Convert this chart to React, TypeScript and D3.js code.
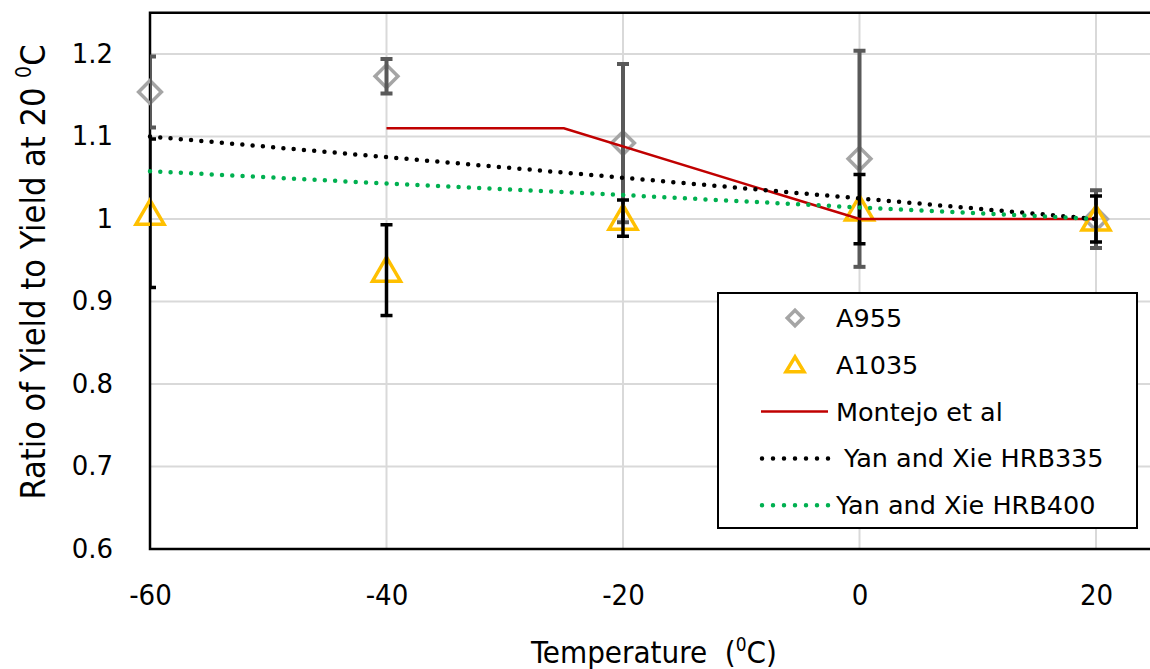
import React, { useEffect, useRef } from 'react';
import * as d3 from 'd3';

// temperatures (deg C) where tests were run
const temps = [-60, -40, -20, 0, 20];

// A955 mean ratio and error (+/-)
const a955 = [1.154, 1.173, 1.092, 1.073, 1.0];
const a955Err = [0.043, 0.021, 0.096, 0.131, 0.035];

// A1035 mean ratio and error (+/-)
const a1035 = [1.007, 0.938, 1.001, 1.012, 1.0];
const a1035Err = [0.09, 0.055, 0.022, 0.042, 0.028];

// Montejo et al model
const montejoT = [-40, -25, 0, 20];
const montejoV = [1.11, 1.11, 1.0, 1.0];

// Yan and Xie models
const hrb335 = [1.1, 1.075, 1.05, 1.025, 1.0];
const hrb400 = [1.058, 1.043, 1.029, 1.014, 1.0];

const xTicks = [-60, -40, -20, 0, 20];
const yTicks = [0.6, 0.7, 0.8, 0.9, 1.0, 1.1, 1.2];

const W = 1150;
const H = 669;

export default function App() {
  const svgRef = useRef<SVGSVGElement>(null);

  useEffect(() => {
    const root = d3.select(svgRef.current);
    root.selectAll('*').remove();

    const x = d3.scaleLinear().domain([-60, 20]).range([150, 1096]);
    const y = d3.scaleLinear().domain([0.6, 1.2]).range([549, 54]);
    const left = 150;
    const right = W + 5;
    const top = y(1.25);
    const bottom = y(0.6);

    // clip for error bars
    root.append('defs').append('clipPath').attr('id', 'plotclip')
      .append('rect')
      .attr('x', left)
      .attr('y', top)
      .attr('width', right - left)
      .attr('height', bottom - top);

    // gridlines
    root.append('g')
      .selectAll('line')
      .data(yTicks.filter((d) => d > 0.6))
      .enter()
      .append('line')
      .attr('x1', left)
      .attr('x2', right)
      .attr('y1', (d) => y(d))
      .attr('y2', (d) => y(d))
      .attr('stroke', '#d9d9d9')
      .attr('stroke-width', 2);

    root.append('g')
      .selectAll('line')
      .data(xTicks.filter((d) => d > -60))
      .enter()
      .append('line')
      .attr('x1', (d) => x(d))
      .attr('x2', (d) => x(d))
      .attr('y1', top)
      .attr('y2', bottom)
      .attr('stroke', '#d9d9d9')
      .attr('stroke-width', 2);

    // frame: top, left, bottom
    root.append('path')
      .attr('d', `M${right},${top}H${left}V${bottom}H${right}`)
      .attr('fill', 'none')
      .attr('stroke', '#000')
      .attr('stroke-width', 2.5);

    // axes labels
    const yAxis = root.append('g')
      .attr('transform', `translate(${left - 37},0)`)
      .call(d3.axisLeft(y).tickValues(yTicks).tickSize(0).tickPadding(0)
        .tickFormat((d) => String(+(+d).toFixed(1))));
    yAxis.select('.domain').remove();
    yAxis.selectAll('text')
      .attr('font-family', 'DejaVu Sans')
      .attr('font-size', 26)
      .attr('fill', '#000');

    const xAxis = root.append('g')
      .attr('transform', `translate(0,${bottom + 35})`)
      .call(d3.axisBottom(x).tickValues(xTicks).tickSize(0).tickPadding(0)
        .tickFormat((d) => String(d)));
    xAxis.select('.domain').remove();
    xAxis.selectAll('text')
      .attr('font-family', 'DejaVu Sans Condensed, DejaVu Sans')
      .attr('font-size', 29)
      .attr('fill', '#000');

    // axis titles
    const xt = root.append('text')
      .attr('x', 654)
      .attr('y', 663)
      .attr('text-anchor', 'middle')
      .attr('font-family', 'DejaVu Sans Condensed, DejaVu Sans')
      .attr('font-size', 31)
      .style('white-space', 'pre')
      .text('Temperature  (');
    xt.append('tspan').attr('font-size', 19).attr('dy', -12).text('0');
    xt.append('tspan').attr('dy', 12).text('C)');

    const yt = root.append('text')
      .attr('transform', 'translate(45,272) rotate(-90)')
      .attr('text-anchor', 'middle')
      .attr('font-family', 'DejaVu Sans Condensed, DejaVu Sans')
      .attr('font-size', 34)
      .text('Ratio of Yield to Yield at 20 ');
    yt.append('tspan').attr('font-size', 21).attr('dy', -14).text('0');
    yt.append('tspan').attr('dy', 14).text('C');

    const errG = (vals: number[], errs: number[], color: string, width: number) => {
      const g = root.append('g').attr('clip-path', 'url(#plotclip)')
        .attr('stroke', color).attr('stroke-width', width);
      temps.forEach((t, i) => {
        const hi = y(vals[i] + errs[i]);
        const lo = y(vals[i] - errs[i]);
        g.append('line').attr('x1', x(t)).attr('x2', x(t)).attr('y1', hi).attr('y2', lo);
        g.append('line').attr('x1', x(t) - 6).attr('x2', x(t) + 6).attr('y1', hi).attr('y2', hi);
        g.append('line').attr('x1', x(t) - 6).attr('x2', x(t) + 6).attr('y1', lo).attr('y2', lo);
      });
    };

    const diamond = d3.symbol().type(d3.symbolSquare).size(260);
    const triangle = 'M0,-13L14,11L-14,11Z';

    // A955
    root.append('g')
      .selectAll('path')
      .data(temps)
      .enter()
      .append('path')
      .attr('d', diamond())
      .attr('transform', (d, i) => `translate(${x(d)},${y(a955[i])}) rotate(45)`)
      .attr('fill', 'none')
      .attr('stroke', '#a5a5a5')
      .attr('stroke-width', 3.5);
    errG(a955, a955Err, '#595959', 4);

    // A1035
    root.append('g')
      .selectAll('path')
      .data(temps)
      .enter()
      .append('path')
      .attr('d', triangle)
      .attr('transform', (d, i) => `translate(${x(d)},${y(a1035[i])})`)
      .attr('fill', 'none')
      .attr('stroke', '#ffc000')
      .attr('stroke-width', 3.5)
      .attr('stroke-linejoin', 'miter');
    errG(a1035, a1035Err, '#000', 3.5);

    const line = d3.line<[number, number]>().x((d) => x(d[0])).y((d) => y(d[1]));

    root.append('path')
      .attr('d', line(montejoT.map((t, i) => [t, montejoV[i]])))
      .attr('fill', 'none')
      .attr('stroke', '#c00000')
      .attr('stroke-width', 2.5);

    root.append('path')
      .attr('d', line(temps.map((t, i) => [t, hrb335[i]])))
      .attr('fill', 'none')
      .attr('stroke', '#000')
      .attr('stroke-width', 4.5)
      .attr('stroke-linecap', 'round')
      .attr('stroke-dasharray', '0 10.3');

    root.append('path')
      .attr('d', line(temps.map((t, i) => [t, hrb400[i]])))
      .attr('fill', 'none')
      .attr('stroke', '#00b050')
      .attr('stroke-width', 4.5)
      .attr('stroke-linecap', 'round')
      .attr('stroke-dasharray', '0 10.3');

    // legend
    const lg = root.append('g');
    lg.append('rect')
      .attr('x', 718)
      .attr('y', 293)
      .attr('width', 419)
      .attr('height', 235)
      .attr('fill', '#fff')
      .attr('stroke', '#000')
      .attr('stroke-width', 2);

    const items = [
      { label: 'A955', kind: 'diamond' },
      { label: 'A1035', kind: 'triangle' },
      { label: 'Montejo et al', kind: 'red' },
      { label: ' Yan and Xie HRB335', kind: 'black' },
      { label: 'Yan and Xie HRB400', kind: 'green' },
    ];
    items.forEach((it, i) => {
      const cy = 318 + i * 46.8;
      if (it.kind === 'diamond') {
        lg.append('path')
          .attr('d', d3.symbol().type(d3.symbolSquare).size(120)())
          .attr('transform', `translate(795,${cy}) rotate(45)`)
          .attr('fill', 'none')
          .attr('stroke', '#a5a5a5')
          .attr('stroke-width', 3.5);
      } else if (it.kind === 'triangle') {
        lg.append('path')
          .attr('d', 'M0,-8L9,7L-9,7Z')
          .attr('transform', `translate(795,${cy})`)
          .attr('fill', 'none')
          .attr('stroke', '#ffc000')
          .attr('stroke-width', 3.5);
      } else {
        const color = it.kind === 'red' ? '#c00000' : it.kind === 'black' ? '#000' : '#00b050';
        const l = lg.append('line')
          .attr('x1', 761)
          .attr('x2', 828)
          .attr('y1', cy)
          .attr('y2', cy)
          .attr('stroke', color);
        if (it.kind === 'red') {
          l.attr('stroke-width', 2.5);
        } else {
          l.attr('x1', 762).attr('x2', 829).attr('stroke-width', 4.5)
            .attr('stroke-linecap', 'round')
            .attr('stroke-dasharray', '0 11');
        }
      }
      lg.append('text')
        .attr('x', 836)
        .attr('y', cy)
        .attr('dy', '0.35em')
        .attr('font-family', 'DejaVu Sans')
        .attr('font-size', 25.5)
        .style('white-space', 'pre')
        .text(it.label);
    });
  }, []);

  return (
    <div id="chart">
      <svg
        ref={svgRef}
        width={W}
        height={H}
        style={{ position: 'absolute', left: 0, top: 0, background: '#fff' }}
      />
    </div>
  );
}
